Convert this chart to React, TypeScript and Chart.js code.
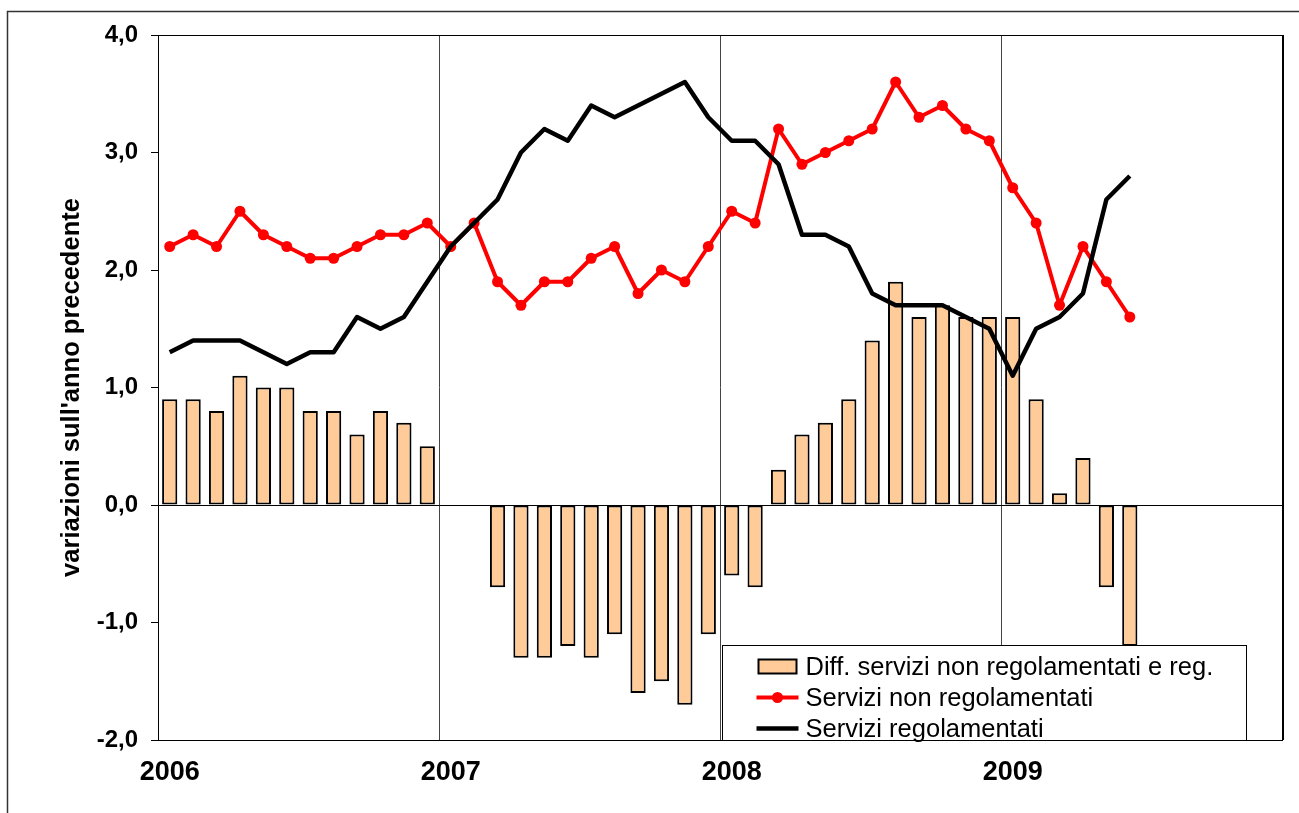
import React, { useEffect, useRef } from "react";
import { Chart, registerables } from "chart.js";

Chart.register(...registerables);

const years = ["2006", "2007", "2008", "2009"];
const monthNames = ["gen", "feb", "mar", "apr", "mag", "giu", "lug", "ago", "set", "ott", "nov", "dic"];
const categories = years.flatMap((y) => monthNames.map((m) => `${m} ${y}`));

const seriesLabels = [
  "Diff. servizi non regolamentati e reg.",
  "Servizi non regolamentati",
  "Servizi regolamentati",
];

const differenza = [
  0.9, 0.9, 0.8, 1.1, 1.0, 1.0, 0.8, 0.8, 0.6, 0.8, 0.7, 0.5,
  0.0, 0.0, -0.7, -1.3, -1.3, -1.2, -1.3, -1.1, -1.6, -1.5, -1.7, -1.1,
  -0.6, -0.7, 0.3, 0.6, 0.7, 0.9, 1.4, 1.9, 1.6, 1.7, 1.6, 1.6,
  1.6, 0.9, 0.1, 0.4, -0.7, -1.2,
];

const nonRegolamentati = [
  2.2, 2.3, 2.2, 2.5, 2.3, 2.2, 2.1, 2.1, 2.2, 2.3, 2.3, 2.4,
  2.2, 2.4, 1.9, 1.7, 1.9, 1.9, 2.1, 2.2, 1.8, 2.0, 1.9, 2.2,
  2.5, 2.4, 3.2, 2.9, 3.0, 3.1, 3.2, 3.6, 3.3, 3.4, 3.2, 3.1,
  2.7, 2.4, 1.7, 2.2, 1.9, 1.6,
];

const regolamentati = [
  1.3, 1.4, 1.4, 1.4, 1.3, 1.2, 1.3, 1.3, 1.6, 1.5, 1.6, 1.9,
  2.2, 2.4, 2.6, 3.0, 3.2, 3.1, 3.4, 3.3, 3.4, 3.5, 3.6, 3.3,
  3.1, 3.1, 2.9, 2.3, 2.3, 2.2, 1.8, 1.7, 1.7, 1.7, 1.6, 1.5,
  1.1, 1.5, 1.6, 1.8, 2.6, 2.8,
];

const yMin = -2;
const yMax = 4;

const FONT = "'Liberation Sans', Arial, Helvetica, sans-serif";

const framePlugin = {
  id: "frameAndLegend",
  afterDraw(chart: any) {
    const { ctx, chartArea: a } = chart;
    ctx.save();
    // plot frame
    ctx.strokeStyle = "#000";
    ctx.lineWidth = 1;
    ctx.strokeRect(Math.round(a.left) + 0.5, Math.round(a.top) + 0.5, Math.round(a.right - a.left), Math.round(a.bottom - a.top));
    ctx.lineWidth = 2;
    ctx.beginPath();
    ctx.moveTo(Math.round(a.right) + 1, a.top);
    ctx.lineTo(Math.round(a.right) + 1, a.bottom);
    ctx.stroke();
    // outer frame
    ctx.strokeStyle = "#333";
    ctx.lineWidth = 1.5;
    ctx.beginPath();
    ctx.moveTo(7.5, chart.height + 2);
    ctx.lineTo(7.5, 11.5);
    ctx.lineTo(chart.width + 2, 11.5);
    ctx.stroke();

    // legend inside chart area
    const x0 = Math.round(a.left + 564) + 0.5;
    const y0 = Math.round(a.bottom - 95) + 0.5;
    const w = 524;
    const h = 95;
    ctx.fillStyle = "#fff";
    ctx.fillRect(x0, y0, w, h);
    ctx.strokeStyle = "#000";
    ctx.lineWidth = 1;
    ctx.strokeRect(x0, y0, w, h);
    const ds = chart.data.datasets;
    const rows = [21, 52, 83];
    ctx.font = `25.5px ${FONT}`;
    ctx.textBaseline = "middle";
    ctx.textAlign = "left";
    ds.forEach((d: any, i: number) => {
      const cy = y0 + rows[i];
      const sx = x0 + 34;
      const ex = x0 + 76;
      if (d.type === "line") {
        ctx.strokeStyle = d.borderColor;
        ctx.lineWidth = d.borderWidth;
        ctx.lineCap = "butt";
        ctx.beginPath();
        ctx.moveTo(sx, cy);
        ctx.lineTo(ex, cy);
        ctx.stroke();
        if (d.pointRadius > 0) {
          ctx.fillStyle = d.pointBackgroundColor;
          ctx.beginPath();
          ctx.arc((sx + ex) / 2, cy, d.pointRadius, 0, Math.PI * 2);
          ctx.fill();
        }
      } else {
        ctx.fillStyle = d.backgroundColor;
        ctx.fillRect(sx + 2, cy - 7, 38, 14);
        ctx.strokeStyle = d.borderColor;
        ctx.lineWidth = 2;
        ctx.strokeRect(sx + 2, cy - 7, 38, 14);
      }
      ctx.fillStyle = "#000";
      ctx.fillText(d.label, x0 + 83, cy + 1);
    });
    ctx.restore();
  },
};

export default function App() {
  const canvasRef = useRef<HTMLCanvasElement | null>(null);

  useEffect(() => {
    document.body.style.margin = "0";
    document.body.style.overflow = "hidden";
    const canvas = canvasRef.current;
    if (!canvas) return;
    const chart = new Chart(canvas, {
      type: "bar",
      data: {
        labels: categories,
        datasets: [
          {
            type: "bar",
            label: seriesLabels[0],
            data: differenza,
            backgroundColor: "#FFCC99",
            borderColor: "#000",
            borderWidth: 2,
            borderSkipped: false,
            categoryPercentage: 1,
            barPercentage: 0.65,
            order: 3,
          } as any,
          {
            type: "line",
            label: seriesLabels[1],
            data: nonRegolamentati,
            borderColor: "#FF0000",
            backgroundColor: "#FF0000",
            borderWidth: 4,
            pointRadius: 5.5,
            pointBackgroundColor: "#FF0000",
            pointBorderColor: "#FF0000",
            pointBorderWidth: 0,
            tension: 0,
            borderJoinStyle: "round",
            order: 2,
          } as any,
          {
            type: "line",
            label: seriesLabels[2],
            data: regolamentati,
            borderColor: "#000000",
            backgroundColor: "#000000",
            borderWidth: 4.5,
            pointRadius: 0,
            tension: 0,
            borderJoinStyle: "round",
            order: 1,
          } as any,
        ],
      },
      options: {
        responsive: false,
        animation: false,
        layout: { padding: { left: 0, top: 35, right: 17, bottom: 0 } },
        plugins: {
          legend: { display: false },
          tooltip: { enabled: false },
          title: { display: false },
        },
        scales: {
          x: {
            type: "category",
            offset: true,
            afterFit: (scale: any) => {
              scale.height = 73;
            },
            grid: {
              offset: true,
              drawTicks: false,
              color: (ctx: any) =>
                typeof ctx.index === "number" && ctx.index > 0 && ctx.index % 12 === 0 ? "#444" : "transparent",
              lineWidth: 1,
            },
            border: { display: false },
            ticks: {
              autoSkip: false,
              maxRotation: 0,
              minRotation: 0,
              padding: 16,
              color: "#000",
              font: { family: FONT, size: 27, weight: "bold" },
              callback: (_v: any, idx: number) => (idx % 12 === 0 ? years[idx / 12] : ""),
            },
          },
          y: {
            min: yMin,
            max: yMax,
            afterFit: (scale: any) => {
              scale.width = 158;
            },
            border: { display: true, color: "#000", width: 1 },
            grid: {
              drawTicks: true,
              tickLength: 7,
              tickColor: "#000",
              color: (ctx: any) => (ctx.tick && ctx.tick.value === 0 ? "#000" : "transparent"),
              lineWidth: 1,
            },
            ticks: {
              stepSize: 1,
              padding: 13,
              color: "#000",
              font: { family: FONT, size: 24, weight: "bold" },
              callback: (v: any) => Number(v).toFixed(1).replace(".", ","),
            },
            title: {
              display: true,
              text: "variazioni sull'anno precedente",
              color: "#000",
              font: { family: FONT, size: 25.5, weight: "bold" },
              padding: { top: 57, bottom: 0 },
            },
          },
        },
      },
      plugins: [framePlugin],
    });
    return () => chart.destroy();
  }, []);

  return (
    <div style={{ width: 1299, height: 813 }}>
      <canvas ref={canvasRef} width={1299} height={813} style={{ display: "block" }} />
    </div>
  );
}
